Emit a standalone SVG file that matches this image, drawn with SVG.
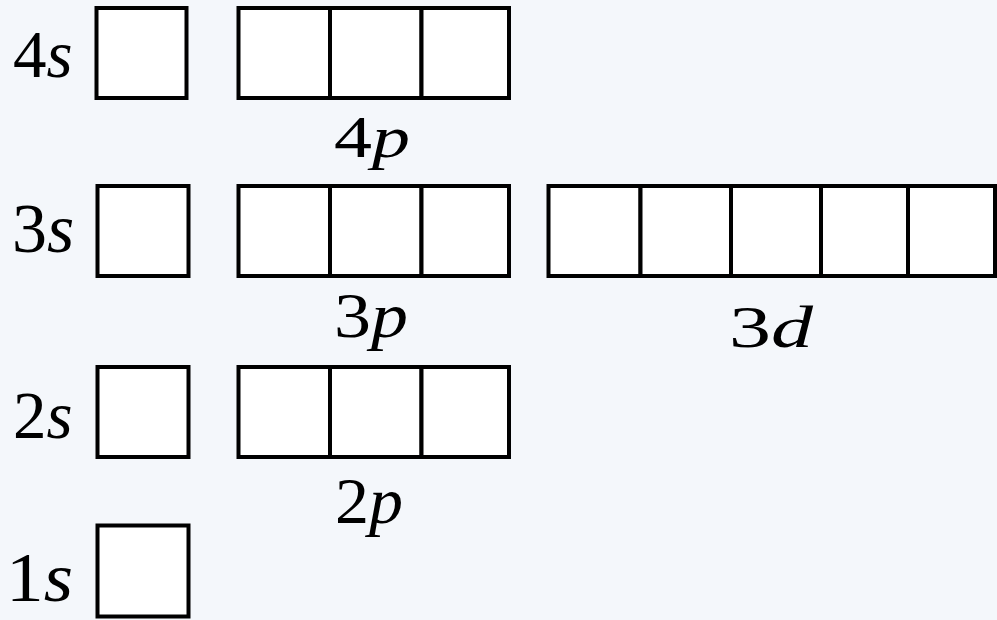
<svg xmlns="http://www.w3.org/2000/svg" width="997" height="620" viewBox="0 0 997 620">
<style>
.bg{fill:#f4f7fb}
.cell{fill:#ffffff;stroke:#000000;stroke-width:4}
text{fill:#000000;font-family:"Liberation Serif","Times New Roman",serif}
.it{font-style:italic}
</style>
<rect class="bg" x="0" y="0" width="997" height="620"/>
<g id="orb-4s">
<rect class="cell" x="96.5" y="8" width="90" height="90"/>
<text font-size="67" x="13" y="77">4<tspan class="it">s</tspan></text>
</g>
<g id="orb-4p">
<rect class="cell" x="238.5" y="8" width="91.5" height="90"/>
<rect class="cell" x="330" y="8" width="91.5" height="90"/>
<rect class="cell" x="421.5" y="8" width="87.5" height="90"/>
<text font-size="60" x="334" y="157" textLength="76" lengthAdjust="spacingAndGlyphs">4<tspan class="it">p</tspan></text>
</g>
<g id="orb-3s">
<rect class="cell" x="97.5" y="186" width="91" height="90"/>
<text font-size="70" x="12" y="252">3<tspan class="it">s</tspan></text>
</g>
<g id="orb-3p">
<rect class="cell" x="238.5" y="186" width="91.5" height="90"/>
<rect class="cell" x="330" y="186" width="91.5" height="90"/>
<rect class="cell" x="421.5" y="186" width="87.5" height="90"/>
<text font-size="64" x="334" y="337" textLength="74" lengthAdjust="spacingAndGlyphs">3<tspan class="it">p</tspan></text>
</g>
<g id="orb-3d">
<rect class="cell" x="548.5" y="186" width="92" height="90"/>
<rect class="cell" x="640.5" y="186" width="90.5" height="90"/>
<rect class="cell" x="731" y="186" width="90" height="90"/>
<rect class="cell" x="821" y="186" width="87" height="90"/>
<rect class="cell" x="908" y="186" width="87" height="90"/>
<text font-size="60" x="729" y="347" textLength="84" lengthAdjust="spacingAndGlyphs">3<tspan class="it">d</tspan></text>
</g>
<g id="orb-2s">
<rect class="cell" x="97.5" y="367" width="91" height="90"/>
<text font-size="67" x="13" y="438">2<tspan class="it">s</tspan></text>
</g>
<g id="orb-2p">
<rect class="cell" x="238.5" y="367" width="91.5" height="90"/>
<rect class="cell" x="330" y="367" width="91.5" height="90"/>
<rect class="cell" x="421.5" y="367" width="87.5" height="90"/>
<text font-size="66" x="335" y="523" textLength="68" lengthAdjust="spacingAndGlyphs">2<tspan class="it">p</tspan></text>
</g>
<g id="orb-1s">
<rect class="cell" x="97.5" y="525.5" width="91" height="91"/>
<text font-size="70" x="6" y="601" textLength="67" lengthAdjust="spacingAndGlyphs">1<tspan class="it">s</tspan></text>
</g>
<g id="connectors"/>
</svg>
